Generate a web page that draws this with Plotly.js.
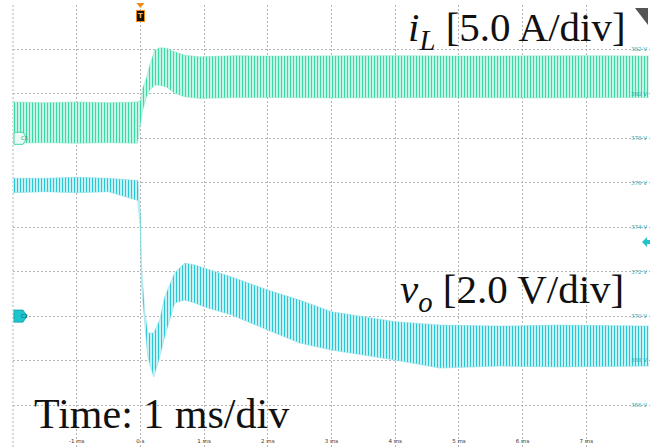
<!DOCTYPE html>
<html>
<head>
<meta charset="utf-8">
<script src="https://cdn.plot.ly/plotly-3.0.1.min.js"></script>
<style>html,body{margin:0;padding:0;background:#fff;}#chart{width:660px;height:447px;}</style>
</head>
<body>
<div id="chart"></div>
<script>
// ---- Data ----
// Inductor current iL (A), envelope of the switching ripple
const time_iL = [-2, -1.5, -1, -0.5, -0.05, 0.01, 0.036, 0.094, 0.146, 0.224, 0.303, 0.413, 0.538, 0.695, 0.93, 1.5, 2, 3, 4, 5, 6, 7, 7.98];
const iL_upper = [4.1, 4.0, 4.1, 4.0, 4.1, 4.3, 5.65, 6.77, 8.23, 9.92, 10.18, 10.14, 9.73, 9.36, 9.17, 9.3, 9.25, 9.3, 9.3, 9.25, 9.3, 9.3, 9.25];
const iL_lower = [-0.55, -0.5, -0.55, -0.5, -0.55, 2.05, 3.17, 4.63, 5.42, 5.98, 5.98, 5.76, 5.08, 4.67, 4.49, 4.58, 4.6, 4.55, 4.58, 4.6, 4.55, 4.58, 4.6];

// Output voltage vo (V), envelope of the ripple
const time_vo = [-2, -1.5, -1, -0.5, -0.04, 0.0, 0.016, 0.067, 0.115, 0.209, 0.303, 0.381, 0.538, 0.695, 0.852, 1.009, 1.433, 2.0, 2.5, 3.0, 3.5, 4.0, 4.7, 5.64, 6.58, 7.98];
const vo_upper = [376.2, 376.2, 376.25, 376.2, 376.1, 374.55, 372.3, 370.27, 369.24, 369.24, 369.82, 370.86, 371.94, 372.39, 372.30, 372.16, 371.76, 371.17, 370.72, 370.20, 369.97, 369.75, 369.6, 369.55, 369.6, 369.55];
const vo_lower = [375.55, 375.6, 375.55, 375.6, 375.2, 373.87, 371.4, 369.69, 368.16, 367.26, 368.16, 369.06, 370.59, 370.72, 370.59, 370.41, 370.05, 369.37, 368.79, 368.47, 368.25, 368.02, 367.66, 367.75, 367.71, 367.75];

// Axis ticks
const x_ticks = [-1, 0, 1, 2, 3, 4, 5, 6, 7];
const x_ticklabels = ['-1 ms', '0 s', '1 ms', '2 ms', '3 ms', '4 ms', '5 ms', '6 ms', '7 ms'];
const v_ticks = [366, 368, 370, 372, 374, 376, 378, 380, 382];
const v_ticklabels = ['366 V', '368 V', '370 V', '372 V', '374 V', '376 V', '378 V', '380 V', '382 V'];

const IL_DARK = '#38d8a8', IL_LIGHT = '#c4f4e4', IL_EDGE = '#7fe6c6';
const VO_DARK = '#26c8d4', VO_LIGHT = '#c6f0f4', VO_EDGE = '#7fdde5';

const traces = [
  {x: time_iL, y: iL_lower, yaxis: 'y2', mode: 'lines', line: {color: IL_EDGE, width: 0.5}, hoverinfo: 'skip'},
  {x: time_iL, y: iL_upper, yaxis: 'y2', mode: 'lines', line: {color: IL_EDGE, width: 0.5}, fill: 'tonexty',
   fillpattern: {shape: '|', size: 3, solidity: 0.35, fgcolor: IL_DARK, bgcolor: IL_LIGHT}, hoverinfo: 'skip'},
  {x: time_vo, y: vo_lower, yaxis: 'y', mode: 'lines', line: {color: VO_EDGE, width: 0.5}, hoverinfo: 'skip'},
  {x: time_vo, y: vo_upper, yaxis: 'y', mode: 'lines', line: {color: VO_EDGE, width: 0.5}, fill: 'tonexty',
   fillpattern: {shape: '|', size: 3, solidity: 0.35, fgcolor: VO_DARK, bgcolor: VO_LIGHT}, hoverinfo: 'skip'}
];

const serif = 'Liberation Serif, DejaVu Serif, serif';
const layout = {
  width: 660, height: 447,
  margin: {l: 13, r: 10, t: 5, b: 0, pad: 0},
  paper_bgcolor: '#ffffff', plot_bgcolor: '#ffffff',
  showlegend: false,
  xaxis: {
    range: [-2, 8], tickmode: 'array', tickvals: x_ticks, ticktext: x_ticklabels,
    showgrid: true, gridcolor: '#b4b4b4', gridwidth: 1, griddash: '2px,2px',
    zeroline: false, showline: false, ticks: '', ticklabelposition: 'inside',
    tickfont: {family: 'DejaVu Sans, sans-serif', size: 5.5, color: '#333'}, automargin: false, fixedrange: true
  },
  yaxis: {
    range: [364.11, 384], side: 'right', tickmode: 'array', tickvals: v_ticks, ticktext: v_ticklabels,
    showgrid: true, gridcolor: '#b4b4b4', gridwidth: 1, griddash: '2px,2px',
    zeroline: false, showline: false, ticks: '', ticklabelposition: 'inside',
    tickfont: {family: 'DejaVu Sans, sans-serif', size: 5.5, color: '#2aaab4'}, automargin: false, fixedrange: true
  },
  yaxis2: {
    range: [-34.73, 15], overlaying: 'y', side: 'left', showgrid: false, zeroline: false,
    showticklabels: false, ticks: '', showline: false, fixedrange: true
  },
  annotations: [
    {xref: 'paper', yref: 'paper', x: 0.966, y: 0.944, xanchor: 'right', yanchor: 'middle', showarrow: false,
     text: '<i>i</i><sub><i>L</i></sub> [5.0 A/div]', font: {family: serif, size: 41, color: '#111'}},
    {xref: 'paper', yref: 'paper', x: 0.963, y: 0.350, xanchor: 'right', yanchor: 'middle', showarrow: false,
     text: '<i>v</i><sub><i>o</i></sub> [2.0 V/div]', font: {family: serif, size: 41, color: '#111'}},
    {xref: 'paper', yref: 'paper', x: 0.030, y: 0.074, xanchor: 'left', yanchor: 'middle', showarrow: false,
     text: 'Time: 1 ms/div', font: {family: serif, size: 42, color: '#111'}},
    // trigger marker
    {xref: 'x', yref: 'paper', x: 0, y: 0.988, xanchor: 'center', yanchor: 'top', showarrow: false,
     text: '<b>T</b>', font: {family: 'DejaVu Sans, sans-serif', size: 7, color: '#f7b56a'},
     bgcolor: '#111111', bordercolor: '#f08a1c', borderwidth: 1, borderpad: 1},
    // channel labels
    {xref: 'paper', yref: 'y', x: 0, xshift: 6, y: 378, showarrow: false, text: 'C8',
     font: {family: 'DejaVu Sans, sans-serif', size: 5, color: '#1a8f6c'}},
    {xref: 'paper', yref: 'y', x: 0, xshift: 6, y: 370, showarrow: false, text: 'C2',
     font: {family: 'DejaVu Sans, sans-serif', size: 5, color: '#0b5a60'}}
  ],
  shapes: [
    // left edge dashed division line (-2 ms)
    {type: 'line', xref: 'paper', yref: 'paper', x0: 0, x1: 0, y0: 0, y1: 1,
     line: {color: '#b4b4b4', width: 1, dash: '2px,2px'}, layer: 'below'},
    // trigger arrow on top
    {type: 'path', xref: 'x', yref: 'paper', xsizemode: 'pixel', ysizemode: 'pixel', xanchor: 0, yanchor: 1,
     path: 'M-4,2 L4,2 L0,-3 Z', fillcolor: '#f08a1c', line: {width: 0}},
    // C8 channel marker
    {type: 'path', xref: 'paper', yref: 'y', xsizemode: 'pixel', ysizemode: 'pixel', xanchor: 0, yanchor: 378,
     path: 'M1,-6 L10,-6 L14,0 L10,6 L1,6 Z', fillcolor: '#e9fbf4', line: {color: '#44d6aa', width: 1}, layer: 'above'},
    // C2 channel marker
    {type: 'path', xref: 'paper', yref: 'y', xsizemode: 'pixel', ysizemode: 'pixel', xanchor: 0, yanchor: 370,
     path: 'M1,-6 L10,-6 L14,0 L10,6 L1,6 Z', fillcolor: '#1fc5cd', line: {color: '#18aab2', width: 1}, layer: 'above'},
    // trigger level arrow on right
    {type: 'path', xref: 'paper', yref: 'y', xsizemode: 'pixel', ysizemode: 'pixel', xanchor: 1, yanchor: 373.33,
     path: 'M-8,0 L-3,5 L-3,2 L0,2 L0,-2 L-3,-2 L-3,-5 Z', fillcolor: '#22c1cc', line: {width: 0}},
    // top-right corner triangle
    {type: 'path', xref: 'paper', yref: 'paper', xsizemode: 'pixel', ysizemode: 'pixel', xanchor: 1, yanchor: 1,
     path: 'M-15,-3 L-2,-3 L-2,-20 Z', fillcolor: '#555555', line: {width: 0}}
  ]
};

Plotly.newPlot('chart', traces, layout, {staticPlot: true, displayModeBar: false});
</script>
</body>
</html>
